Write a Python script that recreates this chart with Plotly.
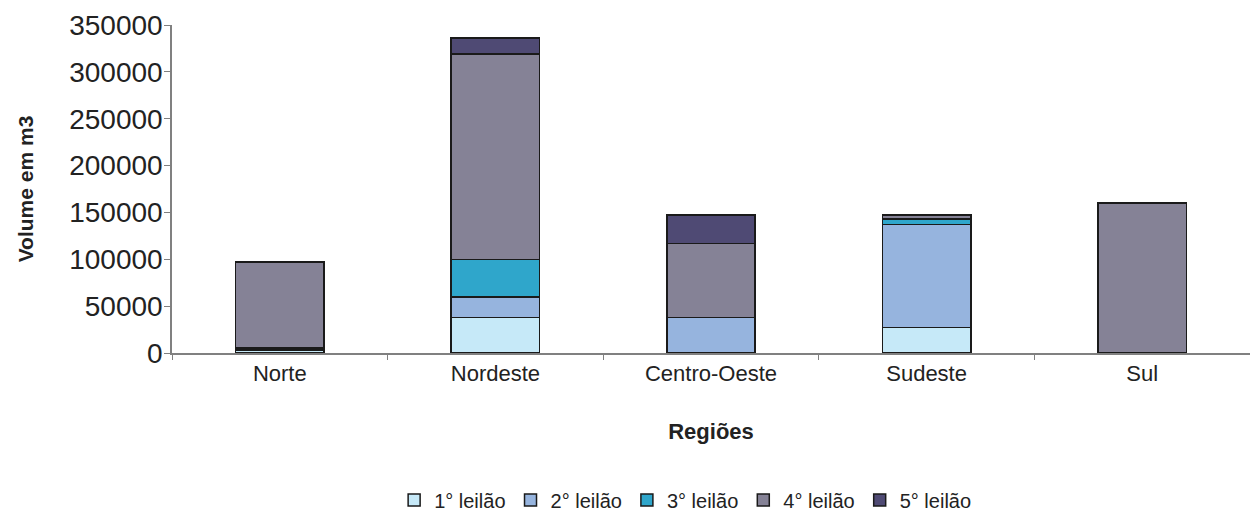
import plotly.graph_objects as go

regions = ["Norte", "Nordeste", "Centro-Oeste", "Sudeste", "Sul"]
series_names = ["1° leilão", "2° leilão", "3° leilão", "4° leilão", "5° leilão"]
leilao1 = [3000, 38000, 0, 27000, 0]
leilao2 = [1500, 22000, 38000, 110000, 0]
leilao3 = [1500, 40000, 0, 6000, 0]
leilao4 = [91000, 219000, 79000, 4000, 160000]
leilao5 = [0, 17000, 30000, 0, 0]
y_ticks = [0, 50000, 100000, 150000, 200000, 250000, 300000, 350000]

colors = ["#c6e9f8", "#96b4de", "#2fa6cb", "#858296", "#4f4a74"]
values = [leilao1, leilao2, leilao3, leilao4, leilao5]

fig = go.Figure()
for name, vals, col in zip(series_names, values, colors):
    fig.add_trace(go.Bar(
        x=regions, y=vals, name=name,
        marker=dict(color=col, line=dict(color="#1a1a1a", width=1.5)),
        width=0.41,
    ))

fig.update_layout(
    barmode="stack",
    width=1250, height=511,
    margin=dict(l=172, r=0, t=25, b=158),
    plot_bgcolor="white", paper_bgcolor="white",
    font=dict(family="Liberation Sans, Arial, sans-serif", color="#222"),
    showlegend=True,
    legend=dict(orientation="h", x=0.476, xanchor="center",
                yref="container", y=0.0215, yanchor="middle",
                font=dict(size=20), traceorder="normal", itemwidth=30),
    xaxis=dict(
        title=dict(text="<b>Regiões</b>", font=dict(size=22), standoff=38),
        showline=True, linecolor="#808080", linewidth=1.5,
        ticks="outside", tickson="boundaries", ticklen=5, tickcolor="#808080",
        tickfont=dict(size=22),
        showgrid=False,
    ),
    yaxis=dict(
        title=dict(text="<b>Volume em m3</b>", font=dict(size=21), standoff=30),
        range=[0, 350000], tickvals=y_ticks, ticktext=[str(v) for v in y_ticks],
        showline=True, linecolor="#808080", linewidth=1.5,
        ticks="outside", ticklen=6, tickcolor="#808080",
        tickfont=dict(size=28), ticklabelstandoff=-4,
        showgrid=False, zeroline=False,
    ),
)

fig.write_html("out.html", config={"displayModeBar": False},
               post_script="document.body.style.margin='0';document.body.style.overflow='hidden';")
